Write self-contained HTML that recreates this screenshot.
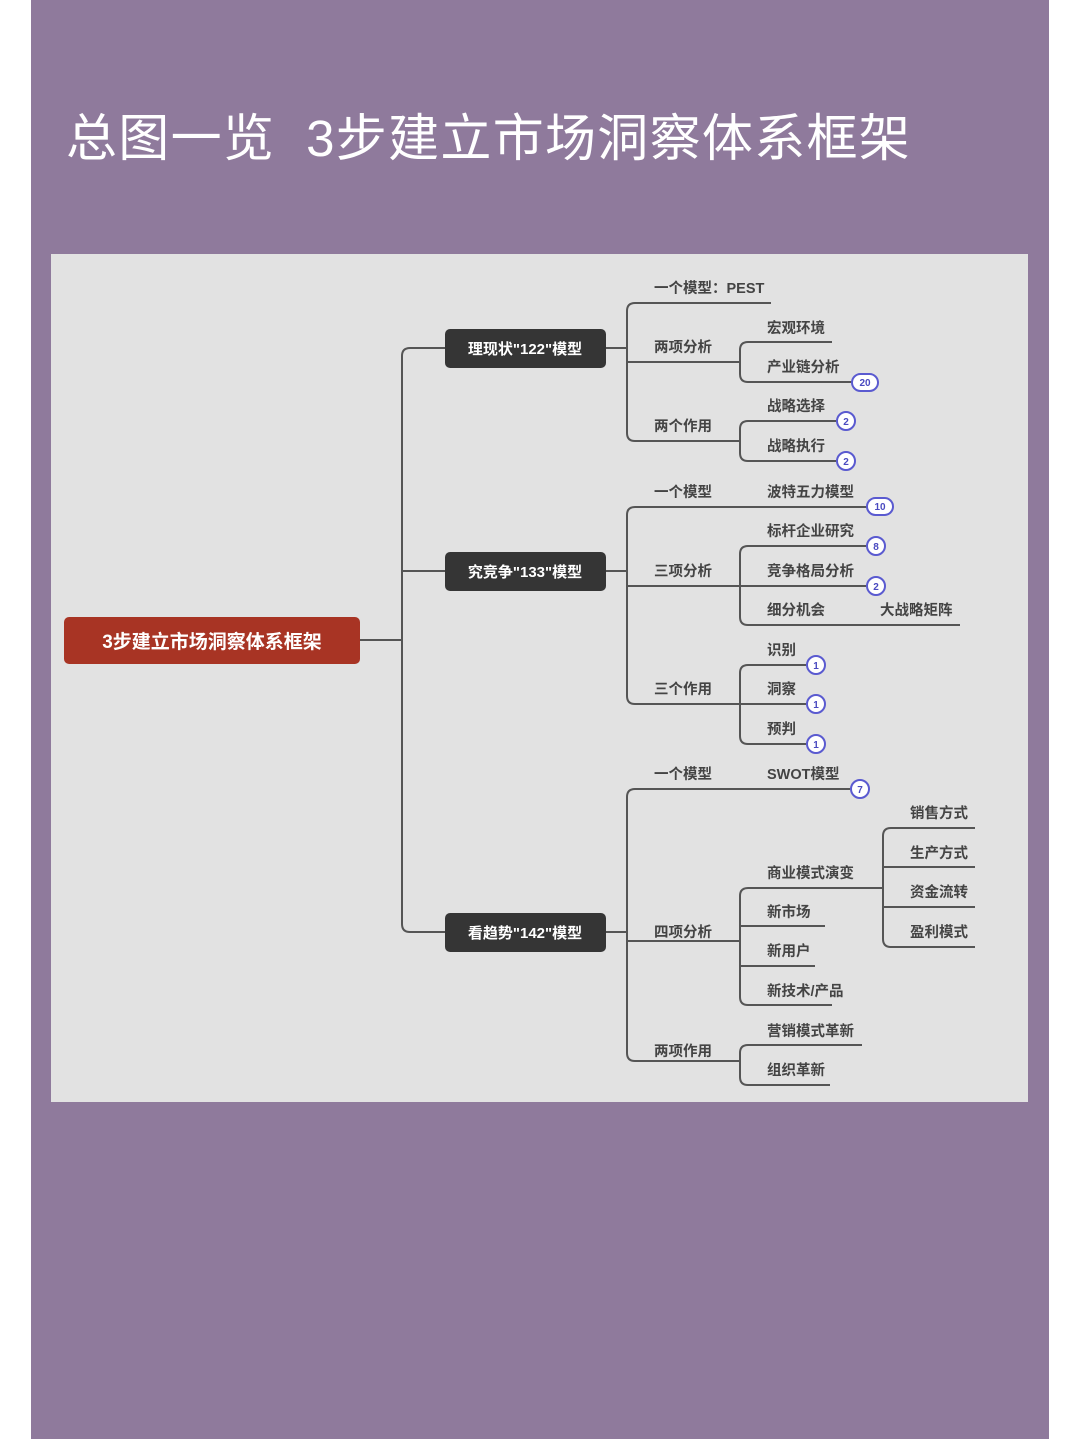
<!DOCTYPE html>
<html><head><meta charset="utf-8"><style>
html,body{margin:0;padding:0}
body{width:1080px;height:1439px;background:#fff;position:relative;overflow:hidden;font-family:"Liberation Sans","Noto Sans CJK SC",sans-serif}
.bg{position:absolute;left:31px;top:0;width:1018px;height:1439px;background:#8f7a9c}
.title{position:absolute;left:66px;top:97px;font-size:51px;color:#fff;letter-spacing:1.3px;white-space:nowrap;font-family:"Liberation Sans","Noto Sans CJK SC",sans-serif}
svg{position:absolute;left:0;top:0}
</style></head><body>
<div class="bg"></div>
<div class="title">总图一览&nbsp;&nbsp;3步建立市场洞察体系框架</div>
<svg width="1080" height="1439" viewBox="0 0 1080 1439">
<rect x="51" y="254" width="977" height="848" fill="#e2e2e2"/>
<g fill="none" stroke="#555" stroke-width="2">
<path d="M360 640 H402"/>
<path d="M445 348 H410 Q402 348 402 356 V924 Q402 932 410 932 H445"/>
<path d="M402 571 Q402 571 410 571 H445"/>
<path d="M606 348 H627"/>
<path d="M771 303 H635 Q627 303 627 311 V433 Q627 441 635 441 H740"/>
<path d="M627 362 H740"/>
<path d="M832 342 H748 Q740 342 740 350 V374 Q740 382 748 382 H855"/>
<path d="M836 421 H748 Q740 421 740 429 V453 Q740 461 748 461 H836"/>
<path d="M606 571 H627"/>
<path d="M870 507 H635 Q627 507 627 515 V696 Q627 704 635 704 H740"/>
<path d="M627 586 H740"/>
<path d="M866 546 H748 Q740 546 740 554 V617 Q740 625 748 625 H960"/>
<path d="M740 586 H866"/>
<path d="M806 665 H748 Q740 665 740 673 V736 Q740 744 748 744 H806"/>
<path d="M740 704 H806"/>
<path d="M606 932 H627"/>
<path d="M850 789 H635 Q627 789 627 797 V1053 Q627 1061 635 1061 H740"/>
<path d="M627 941 H740"/>
<path d="M883 888 H748 Q740 888 740 896 V997 Q740 1005 748 1005 H832"/>
<path d="M740 926 H825"/>
<path d="M740 966 H815"/>
<path d="M975 828 H891 Q883 828 883 836 V939 Q883 947 891 947 H975"/>
<path d="M883 867 H975"/>
<path d="M883 907 H975"/>
<path d="M862 1045 H748 Q740 1045 740 1053 V1077 Q740 1085 748 1085 H830"/>
</g>
<rect x="64" y="617" width="296" height="47" rx="5" fill="#a83424"/>
<text x="212" y="648" fill="#fff" font-size="19" font-weight="bold" text-anchor="middle">3步建立市场洞察体系框架</text>
<g fill="#353535"><rect x="445" y="329" width="161" height="39" rx="5"/><rect x="445" y="552" width="161" height="39" rx="5"/><rect x="445" y="913" width="161" height="39" rx="5"/></g>
<g fill="#fff" font-size="15" font-weight="bold" text-anchor="middle">
<text x="525" y="354">理现状"122"模型</text>
<text x="525" y="577">究竞争"133"模型</text>
<text x="525" y="938">看趋势"142"模型</text>
</g>
<g fill="#444" font-size="14.5" font-weight="bold">
<text x="654" y="293">一个模型：PEST</text>
<text x="654" y="352">两项分析</text>
<text x="654" y="431">两个作用</text>
<text x="767" y="333">宏观环境</text>
<text x="767" y="372">产业链分析</text>
<text x="767" y="411">战略选择</text>
<text x="767" y="451">战略执行</text>
<text x="654" y="497">一个模型</text>
<text x="767" y="497">波特五力模型</text>
<text x="654" y="576">三项分析</text>
<text x="654" y="694">三个作用</text>
<text x="767" y="536">标杆企业研究</text>
<text x="767" y="576">竞争格局分析</text>
<text x="767" y="615">细分机会</text>
<text x="880" y="615">大战略矩阵</text>
<text x="767" y="655">识别</text>
<text x="767" y="694">洞察</text>
<text x="767" y="734">预判</text>
<text x="654" y="779">一个模型</text>
<text x="767" y="779">SWOT模型</text>
<text x="654" y="937">四项分析</text>
<text x="654" y="1056">两项作用</text>
<text x="767" y="878">商业模式演变</text>
<text x="767" y="917">新市场</text>
<text x="767" y="956">新用户</text>
<text x="767" y="996">新技术/产品</text>
<text x="910" y="818">销售方式</text>
<text x="910" y="858">生产方式</text>
<text x="910" y="897">资金流转</text>
<text x="910" y="937">盈利模式</text>
<text x="767" y="1036">营销模式革新</text>
<text x="767" y="1075">组织革新</text>
</g>
<g fill="#fff" stroke="#5a5ad0" stroke-width="2">
<rect x="852" y="374" width="26" height="17" rx="8.5"/>
<circle cx="846" cy="421" r="9"/><circle cx="846" cy="461" r="9"/>
<rect x="867" y="498" width="26" height="17" rx="8.5"/>
<circle cx="876" cy="546" r="9"/><circle cx="876" cy="586" r="9"/>
<circle cx="816" cy="665" r="9"/><circle cx="816" cy="704" r="9"/><circle cx="816" cy="744" r="9"/>
<circle cx="860" cy="789" r="9"/>
</g>
<g fill="#4a4ac0" font-size="10" font-weight="bold" text-anchor="middle">
<text x="865" y="386">20</text><text x="846" y="425">2</text><text x="846" y="465">2</text>
<text x="880" y="510">10</text><text x="876" y="550">8</text><text x="876" y="590">2</text>
<text x="816" y="669">1</text><text x="816" y="708">1</text><text x="816" y="748">1</text>
<text x="860" y="793">7</text>
</g>
</svg>
</body></html>
